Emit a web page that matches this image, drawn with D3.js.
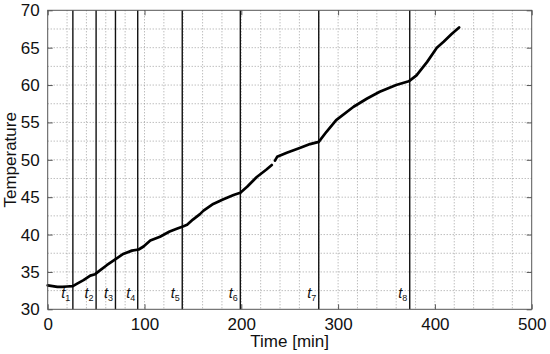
<!DOCTYPE html>
<html>
<head>
<meta charset="utf-8">
<script src="https://cdn.jsdelivr.net/npm/d3@7/dist/d3.min.js"></script>
<style>
  html, body { margin: 0; padding: 0; background: #fff; }
  text { font-family: "Liberation Sans", Arial, sans-serif; }
</style>
</head>
<body>
<svg id="chart" width="550" height="354"></svg>
<script>
// ---- data ----
const times = [0, 5, 10, 15, 20, 26, 30, 37, 44, 49, 54, 61, 69, 78, 87, 94, 99, 106, 116, 126, 134, 139, 144, 150, 157, 161, 171, 181, 192, 199, 206, 216, 226, 231.5, 233, 234.8, 237, 247, 261, 271, 280, 288, 298, 316, 330, 343, 360, 373, 381, 392, 402, 409, 417, 425];
const temps = [33.2, 33.1, 33.0, 33.0, 33.05, 33.1, 33.4, 33.9, 34.5, 34.7, 35.2, 35.9, 36.6, 37.4, 37.85, 38.0, 38.4, 39.2, 39.7, 40.4, 40.8, 41.05, 41.3, 42.0, 42.7, 43.2, 44.1, 44.7, 45.3, 45.6, 46.4, 47.7, 48.7, 49.3, null, 49.9, 50.4, 50.95, 51.6, 52.1, 52.4, 53.75, 55.3, 57.1, 58.2, 59.1, 60.0, 60.5, 61.3, 63.1, 65.0, 65.8, 66.8, 67.7];
const markerTimes = [26, 50, 70, 93, 139, 199, 280, 374];
const markerLabels = ["1", "2", "3", "4", "5", "6", "7", "8"];
const xTicks = [0, 100, 200, 300, 400, 500];
const yTicks = [30, 35, 40, 45, 50, 55, 60, 65, 70];
const xGrid = d3.range(20, 500, 20);
const yGrid = d3.range(32.5, 70, 2.5);

// ---- layout ----
const svg = d3.select("#chart");
const L = 47.7, R = 531.7, T = 10.3, B = 309.3;
const x = d3.scaleLinear().domain([0, 500]).range([L, R]);
const y = d3.scaleLinear().domain([30, 70]).range([B, T]);

// grid
const g = svg.append("g");
g.selectAll(".vg").data(xGrid).join("line")
  .attr("x1", d => x(d)).attr("x2", d => x(d)).attr("y1", T).attr("y2", B)
  .attr("stroke", "#8a8a8a").attr("stroke-width", 0.8).attr("stroke-dasharray", "1,2");
g.selectAll(".hg").data(yGrid).join("line")
  .attr("y1", d => y(d)).attr("y2", d => y(d)).attr("x1", L).attr("x2", R)
  .attr("stroke", "#8a8a8a").attr("stroke-width", 0.8).attr("stroke-dasharray", "1,2");

// marker lines
svg.append("g").selectAll("line").data(markerTimes).join("line")
  .attr("x1", d => x(d)).attr("x2", d => x(d)).attr("y1", T).attr("y2", B)
  .attr("stroke", "#111").attr("stroke-width", 1.4);

// marker labels
const ml = svg.append("g").selectAll("text").data(markerTimes).join("text")
  .attr("x", d => x(d) - 2.5).attr("y", 298)
  .attr("text-anchor", "end")
  .attr("font-size", 14.5).attr("fill", "#111");
ml.append("tspan").attr("font-style", "italic").text("t");
ml.append("tspan").attr("font-size", 9).attr("dy", 3).text((d, i) => markerLabels[i]);

// curve
const pts = times.map((t, i) => [t, temps[i]]);
const line = d3.line().defined(d => d[1] !== null).x(d => x(d[0])).y(d => y(d[1])).curve(d3.curveLinear);
svg.append("path").datum(pts).attr("d", line)
  .attr("fill", "none").attr("stroke", "#000").attr("stroke-width", 2.7)
  .attr("stroke-linejoin", "round").attr("stroke-linecap", "round");

// axes (MATLAB style, ticks inside)
const frameColor = "#555";
const xAxB = d3.axisBottom(x).tickValues(xTicks).tickSize(-5).tickPadding(9).tickFormat(d3.format("d"));
const xAxT = d3.axisTop(x).tickValues(xTicks).tickSize(-5).tickFormat("");
const yAxL = d3.axisLeft(y).tickValues(yTicks).tickSize(-5).tickPadding(8).tickFormat(d3.format("d"));
const yAxR = d3.axisRight(y).tickValues(yTicks).tickSize(-5).tickFormat("");

function styleAxis(sel) {
  sel.select(".domain").remove();
  sel.selectAll(".tick line").attr("stroke", frameColor);
  sel.selectAll(".tick text").attr("fill", "#111").attr("font-size", 17)
    .attr("font-family", "'Liberation Sans', Arial, sans-serif");
}
svg.append("g").attr("transform", `translate(0,${B})`).call(xAxB).call(styleAxis);
svg.append("g").attr("transform", `translate(0,${T})`).call(xAxT).call(styleAxis);
svg.append("g").attr("transform", `translate(${L},0)`).call(yAxL).call(styleAxis);
svg.append("g").attr("transform", `translate(${R},0)`).call(yAxR).call(styleAxis);

svg.append("rect").attr("x", L).attr("y", T).attr("width", R - L).attr("height", B - T)
  .attr("fill", "none").attr("stroke", frameColor).attr("stroke-width", 1);

// axis titles
svg.append("text").attr("x", (L + R) / 2).attr("y", 347).attr("text-anchor", "middle")
  .attr("font-size", 17).attr("fill", "#111").text("Time [min]");
svg.append("text").attr("transform", `translate(16,${(T + B) / 2}) rotate(-90)`)
  .attr("text-anchor", "middle").attr("font-size", 17).attr("fill", "#111").text("Temperature");
</script>
</body>
</html>
